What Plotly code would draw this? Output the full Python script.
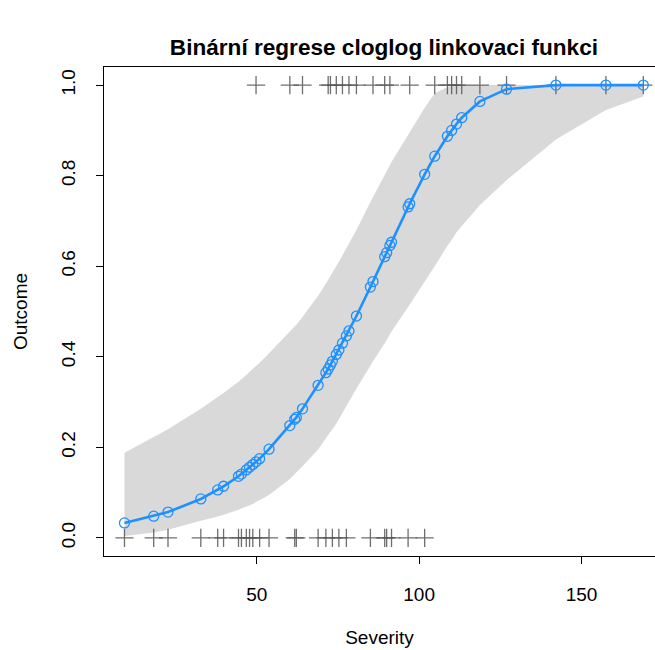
import plotly.graph_objects as go

# ---- data ----
severity_fit = [9.3, 18.3, 22.7, 32.8, 38.0, 39.8, 44.4, 45.3, 46.8, 47.8, 48.8, 49.8, 50.9,
                53.8, 60.2, 61.7, 62.2, 64.1, 68.9, 71.3, 72.0, 72.7, 73.3, 74.5, 75.3, 76.4,
                77.6, 78.4, 80.7, 85.0, 85.8, 89.4, 90.0, 91.0, 91.5, 96.6, 97.1, 101.7, 104.8,
                108.7, 110.0, 111.5, 113.1, 118.7, 126.9, 142.1, 157.5, 169.0]
fit_prob = [0.033, 0.048, 0.057, 0.086, 0.106, 0.114, 0.136, 0.141, 0.150, 0.156, 0.162, 0.168,
            0.175, 0.196, 0.248, 0.262, 0.266, 0.285, 0.337, 0.365, 0.373, 0.382, 0.390, 0.405,
            0.415, 0.430, 0.446, 0.457, 0.490, 0.554, 0.566, 0.621, 0.630, 0.646, 0.653, 0.731,
            0.738, 0.803, 0.843, 0.887, 0.900, 0.914, 0.928, 0.964, 0.991, 1.000, 1.000, 1.000]
band_lower = [0.004, 0.012, 0.018, 0.038, 0.047, 0.051, 0.062, 0.064, 0.069, 0.072, 0.075, 0.079,
              0.082, 0.095, 0.130, 0.140, 0.145, 0.158, 0.195, 0.220, 0.227, 0.233, 0.240, 0.252,
              0.262, 0.275, 0.290, 0.300, 0.330, 0.380, 0.390, 0.430, 0.438, 0.450, 0.456, 0.510,
              0.515, 0.565, 0.600, 0.645, 0.658, 0.675, 0.690, 0.735, 0.790, 0.880, 0.945, 0.975]
band_upper = [0.188, 0.222, 0.240, 0.285, 0.310, 0.320, 0.345, 0.350, 0.360, 0.367, 0.373, 0.380,
              0.387, 0.408, 0.455, 0.467, 0.471, 0.488, 0.535, 0.562, 0.570, 0.578, 0.585, 0.600,
              0.610, 0.624, 0.640, 0.650, 0.680, 0.742, 0.753, 0.800, 0.810, 0.822, 0.830, 0.890,
              0.896, 0.950, 0.982, 0.996, 0.998, 0.999, 1.000, 1.000, 1.000, 1.000, 1.000, 1.000]

severity_outcome0 = [9.3, 18.3, 22.7, 32.8, 38.0, 39.8, 44.4, 45.3, 46.8, 47.8, 48.8, 50.9, 53.8,
                     61.7, 62.2, 68.9, 71.3, 73.3, 75.3, 77.6, 85.0, 89.4, 90.0, 91.5, 96.6, 101.7]
severity_outcome1 = [49.8, 60.2, 64.1, 72.0, 72.7, 74.5, 76.4, 78.4, 80.7, 85.8, 89.4, 91.0, 97.1,
                     104.8, 108.7, 110.0, 111.5, 113.1, 118.7, 126.9, 142.1, 157.5, 169.0]

x_ticks = [50, 100, 150]
y_ticks = [0.0, 0.2, 0.4, 0.6, 0.8, 1.0]
y_tick_labels = ["0.0", "0.2", "0.4", "0.6", "0.8", "1.0"]

title_text = "Binární regrese cloglog linkovaci funkci"
x_title = "Severity"
y_title = "Outcome"

FONT = "Liberation Sans, Arial, Helvetica, sans-serif"
BLUE = "#1E90FF"
PLUS = "rgba(85,85,85,0.85)"

fig = go.Figure()

# confidence band
fig.add_trace(go.Scatter(
    x=severity_fit + severity_fit[::-1],
    y=band_upper + band_lower[::-1],
    mode="lines", fill="toself", fillcolor="#D9D9D9",
    line=dict(width=0, color="#D9D9D9"), hoverinfo="skip", showlegend=False))

# observed outcomes
fig.add_trace(go.Scatter(
    x=severity_outcome0 + severity_outcome1,
    y=[0] * len(severity_outcome0) + [1] * len(severity_outcome1),
    mode="markers",
    marker=dict(symbol="cross-thin-open", size=13, color=PLUS, line=dict(width=1.3, color=PLUS)),
    showlegend=False))

# fitted curve
fig.add_trace(go.Scatter(
    x=severity_fit, y=fit_prob, mode="lines+markers",
    line=dict(color=BLUE, width=2.6),
    marker=dict(symbol="circle-open", size=10, color=BLUE, line=dict(width=1.3, color=BLUE)),
    showlegend=False))

fig.update_layout(
    width=655, height=650,
    margin=dict(l=104, r=0, t=67, b=94),
    paper_bgcolor="white", plot_bgcolor="white",
    font=dict(family=FONT, size=19, color="black"),
    title=dict(text="<b>" + title_text + "</b>", x=0.508, xanchor="center", xref="paper",
               y=1 - 47 / 650, yanchor="middle", font=dict(size=22.6, family=FONT, color="black")),
)

fig.update_xaxes(
    range=[3.0, 172.6], tickvals=x_ticks, ticktext=[str(v) for v in x_ticks],
    showgrid=False, zeroline=False,
    showline=True, linecolor="black", linewidth=1, mirror=True,
    ticks="outside", ticklen=7, tickcolor="black", tickwidth=1,
    ticklabelstandoff=14,
    tickfont=dict(size=19, family=FONT, color="black"),
    title=dict(text=x_title, standoff=26, font=dict(size=19, family=FONT, color="black")),
)
fig.update_yaxes(
    range=[-0.04, 1.04], tickvals=y_ticks, ticktext=y_tick_labels, tickangle=-90,
    showgrid=False, zeroline=False,
    showline=True, linecolor="black", linewidth=1, mirror=False,
    ticks="outside", ticklen=7, tickcolor="black", tickwidth=1,
    ticklabelstandoff=13,
    tickfont=dict(size=19, family=FONT, color="black"),
    title=dict(text=y_title, standoff=25, font=dict(size=19, family=FONT, color="black")),
)

fig.write_html("out.html")
